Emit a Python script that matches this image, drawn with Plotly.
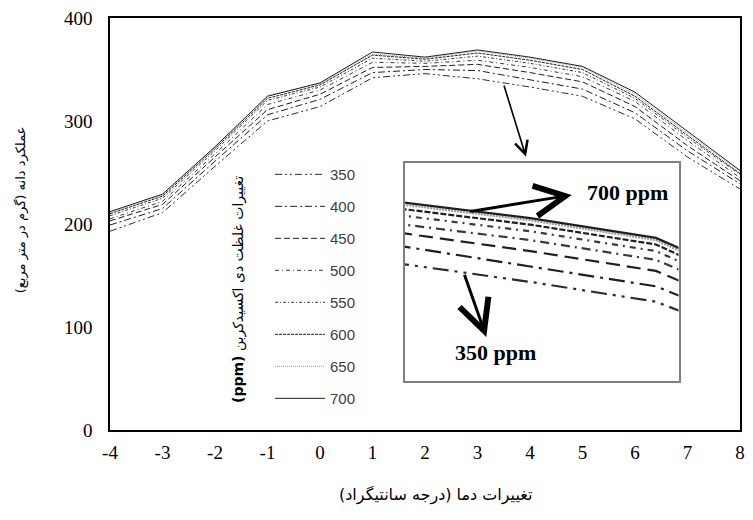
import plotly.graph_objects as go

# Temperature change (°C) on the x axis
temp_change = [-4, -3, -2, -1, 0, 1, 2, 3, 4, 5, 6, 7, 8]
x_tick_text = ["-4", "-3", "-2", "-1", "0", "1", "2", "3", "4", "5", "6", "7", "8"]
y_tick_vals = [0, 100, 200, 300, 400]

# Grain yield (g per m²) for each CO2 concentration (ppm)
yield_350 = [193, 211, 256, 300, 314, 342, 346, 341, 333, 324, 302, 265, 234]
yield_400 = [199, 215, 261, 306, 321, 347, 350, 349, 340, 331, 308, 271, 239]
yield_450 = [203, 219, 265, 311, 326, 352, 353, 355, 347, 338, 314, 276, 242]
yield_500 = [205, 222, 268, 316, 330, 357, 356, 359, 352, 343, 319, 281, 245]
yield_550 = [208, 225, 271, 320, 333, 361, 358, 363, 356, 347, 322, 284, 248]
yield_600 = [210, 227, 273, 322, 335, 364, 360, 366, 359, 350, 324, 286, 249]
yield_650 = [211, 228, 274, 325, 336, 365, 361, 368, 361, 352, 326, 288, 251]
yield_700 = [212, 229, 275, 324, 337, 367, 362, 369, 362, 353, 328, 290, 252]

co2_labels = ["350", "400", "450", "500", "550", "600", "650", "700"]
series = [yield_350, yield_400, yield_450, yield_500,
          yield_550, yield_600, yield_650, yield_700]

# line styles: (colour, dash in main plot, dash in the zoomed inset)
styles = [
    ("#2b2b2b", "7px,3px,2px,3px,2px,3px", "16px,6px,3px,6px,3px,6px"),
    ("#1f1f1f", "7px,3px,2px,3px", "16px,6px,3px,6px"),
    ("#1f1f1f", "6px,3px", "14px,7px"),
    ("#3a3a3a", "4px,3px,1px,3px", "9px,5px,2px,5px"),
    ("#3a3a3a", "3px,2px,1px,2px", "6px,5px,2px,5px"),
    ("#1f1f1f", "3px,1px", "6px,2px"),
    ("#9a9a9a", "1px,1px", "2px,1px"),
    ("#1f1f1f", "solid", "solid"),
]

fig = go.Figure()

for label, ys, (col, dash_main, dash_inset) in zip(co2_labels, series, styles):
    fig.add_trace(go.Scatter(
        x=temp_change, y=ys, mode="lines", name=label,
        legendgroup=label,
        line=dict(color=col, width=1, dash=dash_main),
        xaxis="x", yaxis="y",
    ))

for label, ys, (col, dash_main, dash_inset) in zip(co2_labels, series, styles):
    fig.add_trace(go.Scatter(
        x=temp_change, y=ys, mode="lines", name=label,
        showlegend=False,
        line=dict(color=col, width=2.2, dash=dash_inset),
        xaxis="x2", yaxis="y2",
    ))

serif = "Liberation Serif, Times New Roman, serif"
persian = "DejaVu Sans, sans-serif"

fig.update_layout(
    width=753, height=520,
    margin=dict(l=110, r=8, t=18, b=90),
    paper_bgcolor="white", plot_bgcolor="white",
    xaxis=dict(
        range=[-4, 8], tickmode="array", tickvals=temp_change, ticktext=x_tick_text,
        showline=True, mirror=True, linecolor="black", linewidth=1.5,
        showgrid=False, zeroline=False, ticks="",
        ticklabelstandoff=4,
        tickfont=dict(family=serif, size=19, color="black"),
    ),
    yaxis=dict(
        range=[0, 400], tickmode="array", tickvals=y_tick_vals,
        showline=True, mirror=True, linecolor="black", linewidth=1.5,
        showgrid=False, zeroline=False, ticks="",
        ticklabelstandoff=12,
        tickfont=dict(family=serif, size=19, color="black"),
    ),
    xaxis2=dict(
        domain=[0.4677, 0.9024], anchor="y2", range=[3.0, 5.18],
        showline=True, mirror=True, linecolor="#7f7f7f", linewidth=1.5,
        showgrid=False, zeroline=False, showticklabels=False, ticks="",
    ),
    yaxis2=dict(
        domain=[0.119, 0.648], anchor="x2", range=[288, 387],
        showline=True, mirror=True, linecolor="#7f7f7f", linewidth=1.5,
        showgrid=False, zeroline=False, showticklabels=False, ticks="",
    ),
    legend=dict(
        x=0.254, y=0.66, xanchor="left", yanchor="top",
        itemwidth=50, tracegroupgap=9.5,
        bgcolor="rgba(0,0,0,0)",
        font=dict(family="Liberation Sans, Arial, sans-serif", size=15, color="#404040"),
    ),
    showlegend=True,
)

annotations = [
    # axis titles
    dict(text="عملکرد دانه (گرم در متر مربع)\u200f", xref="paper", yref="paper",
         x=-0.1417, y=0.535, xanchor="center", yanchor="middle",
         textangle=-90, showarrow=False,
         font=dict(family=persian, size=13, color="black")),
    dict(text="تغییرات دما (درجه سانتیگراد)\u200f", xref="paper", yref="paper",
         x=0.5165, y=-0.158, xanchor="center", yanchor="middle", showarrow=False,
         font=dict(family=persian, size=16, color="black")),
    # legend title
    dict(text="\u202bتغییرات غلظت دی اکسیدکربن <b>(ppm)</b>\u202c", xref="paper", yref="paper",
         x=0.203, y=0.342, xanchor="center", yanchor="middle",
         textangle=-90, showarrow=False,
         font=dict(family=persian, size=14, color="black")),
    # arrow from the curves down to the zoomed inset
    dict(x=3.923, y=265.3, ax=3.496, ay=335.9, xref="x", yref="y",
         axref="x", ayref="y", showarrow=True, arrowhead=5, arrowsize=1.6,
         arrowwidth=1.6, arrowcolor="black", text=""),
    # inset labels and arrows
    dict(x=4.33, y=372.5, ax=3.511, ay=364.9, xref="x2", yref="y2",
         axref="x2", ayref="y2", showarrow=True, arrowhead=5, arrowsize=2,
         arrowwidth=3, arrowcolor="black", text=""),
    dict(x=3.650, y=308.0, ax=3.472, ay=336.9, xref="x2", yref="y2",
         axref="x2", ayref="y2", showarrow=True, arrowhead=5, arrowsize=2,
         arrowwidth=3, arrowcolor="black", text=""),
    dict(text="<b>700 ppm</b>", x=4.777, y=373.8, xref="x2", yref="y2",
         showarrow=False, font=dict(family=serif, size=22, color="black")),
    dict(text="<b>350 ppm</b>", x=3.727, y=301.1, xref="x2", yref="y2",
         showarrow=False, font=dict(family=serif, size=22, color="black")),
]
fig.update_layout(annotations=annotations)

fig.write_html("out.html")
